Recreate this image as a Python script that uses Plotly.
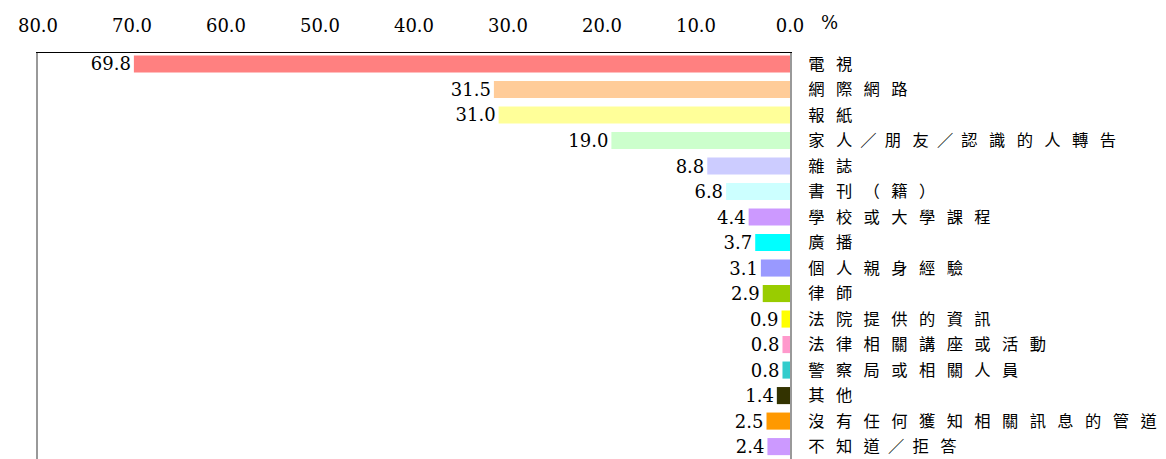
import plotly.graph_objects as go

categories = ["電視", "網際網路", "報紙", "家人／朋友／認識的人轉告", "雜誌", "書刊（籍）",
              "學校或大學課程", "廣播", "個人親身經驗", "律師", "法院提供的資訊",
              "法律相關講座或活動", "警察局或相關人員", "其他", "沒有任何獲知相關訊息的管道", "不知道／拒答"]
values = [69.8, 31.5, 31.0, 19.0, 8.8, 6.8, 4.4, 3.7, 3.1, 2.9, 0.9, 0.8, 0.8, 1.4, 2.5, 2.4]
colors = ["#FF8080", "#FFCC99", "#FFFF99", "#CCFFCC", "#CCCCFF", "#CCFFFF", "#CC99FF", "#00FFFF",
          "#9999FF", "#99CC00", "#FFFF00", "#FF99CC", "#33CCCC", "#333300", "#FF9900", "#CC99FF"]
tick_values = [80, 70, 60, 50, 40, 30, 20, 10, 0]


def spaced(text):
    out = ""
    for i, ch in enumerate(text):
        if i > 0:
            if ch == "／" or text[i - 1] == "／":
                out += "\u2002"
            else:
                out += "\u2002\u2009"
        out += ch
    return out


labels = [spaced(c) for c in categories]

# page body has an 8px default margin, so compensate
W, H = 1166, 459
L, T, B = 30, 45, 0
R = W - 782
plot_h = H - T - B

fig = go.Figure(go.Bar(
    x=values, y=labels, orientation="h",
    marker=dict(color=colors, line=dict(width=0)),
    width=0.67,
    text=[f"{v:.1f}" for v in values], textposition="outside", constraintext="none",
    textfont=dict(family="DejaVu Serif", size=18, color="black"),
    cliponaxis=False, hoverinfo="skip",
))

fig.update_layout(
    width=W, height=H, margin=dict(l=L, r=R, t=T, b=B, pad=0),
    paper_bgcolor="white", plot_bgcolor="white", showlegend=False,
    xaxis=dict(side="top", range=[80, 0], tickvals=tick_values, tickformat=".1f",
               showgrid=False, zeroline=False, showline=True, linecolor="black", linewidth=1,
               ticks="", ticklabelstandoff=13, automargin=False,
               tickfont=dict(family="DejaVu Serif", size=18, color="black")),
    yaxis=dict(side="right", type="category", categoryarray=labels, range=[15.80, -0.43],
               showgrid=False, zeroline=False, showline=True, linecolor="#999999", linewidth=2,
               mirror=True, ticks="", ticklabelstandoff=13, automargin=False,
               tickfont=dict(family="Noto Sans CJK TC", size=16.3, color="black")),
    annotations=[dict(text="%", xref="paper", yref="paper", x=1 + 40 / 752, y=1 + 31 / plot_h,
                      xanchor="center", yanchor="middle", showarrow=False,
                      font=dict(family="DejaVu Serif", size=18, color="black"))],
)

fig.write_html("out.html")
